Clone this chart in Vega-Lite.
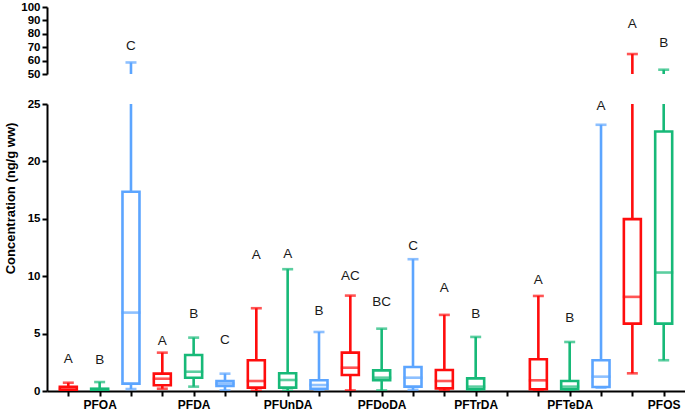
{
  "$schema": "https://vega.github.io/schema/vega-lite/v6.json",
  "autosize": {"type": "pad"},
  "padding": {"left": 3, "top": 1, "right": 0, "bottom": 3},
  "bounds": "flush",
  "spacing": 30,
  "background": "white",
  "data": {
    "values": [
      {"slot": "PFOA|1", "group": "PFOA", "series": "S1", "min": 0.02, "q1": 0.09, "median": 0.2, "q3": 0.37, "max": 0.72, "letter": "A", "letter_at": 2.79},
      {"slot": "PFOA|2", "group": "PFOA", "series": "S2", "min": 0.01, "q1": 0.03, "median": 0.1, "q3": 0.2, "max": 0.78, "letter": "B", "letter_at": 2.7},
      {"slot": "PFOA|3", "group": "PFOA", "series": "S3", "min": 0.17, "q1": 0.64, "median": 6.83, "q3": 17.35, "max": 58.6, "letter": "C", "letter_at": 71},
      {"slot": "PFDA|1", "group": "PFDA", "series": "S1", "min": 0.2, "q1": 0.5, "median": 1.07, "q3": 1.51, "max": 3.34, "letter": "A", "letter_at": 4.36},
      {"slot": "PFDA|2", "group": "PFDA", "series": "S2", "min": 0.38, "q1": 1.16, "median": 1.68, "q3": 3.14, "max": 4.65, "letter": "B", "letter_at": 6.74},
      {"slot": "PFDA|3", "group": "PFDA", "series": "S3", "min": 0.05, "q1": 0.44, "median": 0.65, "q3": 0.87, "max": 1.51, "letter": "C", "letter_at": 4.42},
      {"slot": "PFUnDA|1", "group": "PFUnDA", "series": "S1", "min": 0.02, "q1": 0.29, "median": 0.87, "q3": 2.68, "max": 7.21, "letter": "A", "letter_at": 11.83},
      {"slot": "PFUnDA|2", "group": "PFUnDA", "series": "S2", "min": 0.02, "q1": 0.29, "median": 0.96, "q3": 1.54, "max": 10.61, "letter": "A", "letter_at": 11.92},
      {"slot": "PFUnDA|3", "group": "PFUnDA", "series": "S3", "min": 0.02, "q1": 0.2, "median": 0.52, "q3": 0.93, "max": 5.14, "letter": "B", "letter_at": 6.97},
      {"slot": "PFDoDA|1", "group": "PFDoDA", "series": "S1", "min": 0.05, "q1": 1.39, "median": 2.03, "q3": 3.34, "max": 8.31, "letter": "AC", "letter_at": 10.03},
      {"slot": "PFDoDA|2", "group": "PFDoDA", "series": "S2", "min": 0.05, "q1": 0.93, "median": 1.16, "q3": 1.8, "max": 5.43, "letter": "BC", "letter_at": 7.76},
      {"slot": "PFDoDA|3", "group": "PFDoDA", "series": "S3", "min": 0.1, "q1": 0.38, "median": 1.16, "q3": 2.09, "max": 11.48, "letter": "C", "letter_at": 12.64},
      {"slot": "PFTrDA|1", "group": "PFTrDA", "series": "S1", "min": 0.05, "q1": 0.23, "median": 0.87, "q3": 1.83, "max": 6.63, "letter": "A", "letter_at": 8.95},
      {"slot": "PFTrDA|2", "group": "PFTrDA", "series": "S2", "min": 0.02, "q1": 0.15, "median": 0.38, "q3": 1.1, "max": 4.71, "letter": "B", "letter_at": 6.74},
      {"slot": "PFTeDA|1", "group": "PFTeDA", "series": "S1", "min": 0.02, "q1": 0.15, "median": 0.93, "q3": 2.76, "max": 8.28, "letter": "A", "letter_at": 9.68},
      {"slot": "PFTeDA|2", "group": "PFTeDA", "series": "S2", "min": 0.02, "q1": 0.15, "median": 0.38, "q3": 0.87, "max": 4.27, "letter": "B", "letter_at": 6.39},
      {"slot": "PFTeDA|3", "group": "PFTeDA", "series": "S3", "min": 0.3, "q1": 0.35, "median": 1.25, "q3": 2.68, "max": 23.19, "letter": "A", "letter_at": 24.85},
      {"slot": "PFOS|1", "group": "PFOS", "series": "S1", "min": 1.54, "q1": 5.87, "median": 8.2, "q3": 14.97, "max": 64.9, "letter": "A", "letter_at": 87.2},
      {"slot": "PFOS|2", "group": "PFOS", "series": "S2", "min": 2.68, "q1": 5.87, "median": 10.32, "q3": 22.6, "max": 53.2, "letter": "B", "letter_at": 73.5}
    ]
  },
  "config": {
    "font": "Liberation Sans",
    "view": {"stroke": null},
    "axis": {
      "domainColor": "#000000",
      "domainWidth": 2,
      "tickColor": "#000000",
      "tickWidth": 2,
      "tickSize": 5,
      "labelFont": "Liberation Sans",
      "labelFontWeight": "bold",
      "labelColor": "#000000",
      "labelOverlap": false,
      "titleFont": "Liberation Sans",
      "titleColor": "#000000",
      "grid": false
    }
  },
  "vconcat": [
    {
      "width": 638,
      "height": 67,
      "encoding": {
        "x": {
          "field": "slot",
          "type": "nominal",
          "scale": {
            "type": "point",
            "padding": 0.68,
            "domain": ["PFOA|1", "PFOA|2", "PFOA|3", "PFDA|1", "PFDA|2", "PFDA|3", "PFUnDA|1", "PFUnDA|2", "PFUnDA|3", "PFDoDA|1", "PFDoDA|2", "PFDoDA|3", "PFTrDA|1", "PFTrDA|2", "PFTrDA|3", "PFTeDA|1", "PFTeDA|2", "PFTeDA|3", "PFOS|1", "PFOS|2"]
          },
          "axis": null
        }
      },
      "layer": [
        {
          "mark": {"type": "rule", "clip": true, "strokeWidth": 2.6},
          "encoding": {
            "y": {
              "field": "q3",
              "type": "quantitative",
              "scale": {"domain": [50, 100], "nice": false, "zero": false},
              "axis": {"values": [50, 60, 70, 80, 90, 100], "tickCount": 10, "title": null, "labelFontSize": 11.5, "labelPadding": 2, "labelOverlap": false, "labelBound": false}
            },
            "y2": {"field": "max"},
            "color": {"field": "series", "type": "nominal", "scale": {"domain": ["S1", "S2", "S3"], "range": ["#FF0D0D", "#17B978", "#5CA5FF"]}, "legend": null}
          }
        },
        {
          "mark": {"type": "tick", "clip": true, "size": 11, "thickness": 2.6},
          "encoding": {
            "y": {"field": "max", "type": "quantitative"},
            "color": {"field": "series", "type": "nominal", "legend": null}
          }
        },
        {
          "transform": [{"filter": "datum.letter_at > 25"}],
          "mark": {"type": "text", "fontSize": 13.5, "font": "Liberation Sans", "baseline": "middle", "color": "#1a1a1a"},
          "encoding": {
            "y": {"field": "letter_at", "type": "quantitative"},
            "text": {"field": "letter", "type": "nominal"}
          }
        }
      ]
    },
    {
      "width": 638,
      "height": 287,
      "encoding": {
        "x": {
          "field": "slot",
          "type": "nominal",
          "scale": {
            "type": "point",
            "padding": 0.68,
            "domain": ["PFOA|1", "PFOA|2", "PFOA|3", "PFDA|1", "PFDA|2", "PFDA|3", "PFUnDA|1", "PFUnDA|2", "PFUnDA|3", "PFDoDA|1", "PFDoDA|2", "PFDoDA|3", "PFTrDA|1", "PFTrDA|2", "PFTrDA|3", "PFTeDA|1", "PFTeDA|2", "PFTeDA|3", "PFOS|1", "PFOS|2"]
          },
          "axis": {
            "title": null,
            "labelAngle": 0,
            "labelFontSize": 12,
            "labelPadding": 3,
            "labelOverlap": false,
            "labelExpr": "indexof(datum.value, '|2') >= 0 ? split(datum.value, '|')[0] : ''"
          }
        }
      },
      "layer": [
        {
          "mark": {"type": "rule", "clip": true, "strokeWidth": 2.6},
          "encoding": {
            "y": {
              "field": "q3",
              "type": "quantitative",
              "scale": {"domain": [0, 25], "nice": false},
              "axis": {
                "values": [0, 5, 10, 15, 20, 25],
                "tickCount": 10,
                "labelFontSize": 11.5,
                "labelPadding": 2,
                "labelOverlap": false,
                "title": "Concentration  (ng/g ww)",
                "titleFontSize": 13,
                "titleFontWeight": "bold",
                "titleAngle": 270,
                "titleAlign": "center",
                "titleBaseline": "alphabetic",
                "titleX": -33,
                "titleY": 94
              }
            },
            "y2": {"field": "max"},
            "color": {"field": "series", "type": "nominal", "scale": {"domain": ["S1", "S2", "S3"], "range": ["#FF0D0D", "#17B978", "#5CA5FF"]}, "legend": null}
          }
        },
        {
          "mark": {"type": "rule", "clip": true, "strokeWidth": 2.6},
          "encoding": {
            "y": {"field": "min", "type": "quantitative"},
            "y2": {"field": "q1"},
            "color": {"field": "series", "type": "nominal", "legend": null}
          }
        },
        {
          "mark": {"type": "bar", "clip": true, "filled": false, "size": 17, "strokeWidth": 2.6},
          "encoding": {
            "y": {"field": "q1", "type": "quantitative"},
            "y2": {"field": "q3"},
            "color": {"field": "series", "type": "nominal", "legend": null}
          }
        },
        {
          "mark": {"type": "tick", "clip": true, "size": 19, "thickness": 2.6},
          "encoding": {
            "y": {"field": "median", "type": "quantitative"},
            "color": {"field": "series", "type": "nominal", "legend": null}
          }
        },
        {
          "mark": {"type": "tick", "clip": true, "size": 11, "thickness": 2.6},
          "encoding": {
            "y": {"field": "max", "type": "quantitative"},
            "color": {"field": "series", "type": "nominal", "legend": null}
          }
        },
        {
          "mark": {"type": "tick", "clip": true, "size": 11, "thickness": 2.6},
          "encoding": {
            "y": {"field": "min", "type": "quantitative"},
            "color": {"field": "series", "type": "nominal", "legend": null}
          }
        },
        {
          "transform": [{"filter": "datum.letter_at <= 25"}],
          "mark": {"type": "text", "fontSize": 13.5, "font": "Liberation Sans", "baseline": "middle", "color": "#1a1a1a"},
          "encoding": {
            "y": {"field": "letter_at", "type": "quantitative"},
            "text": {"field": "letter", "type": "nominal"}
          }
        }
      ]
    }
  ]
}
